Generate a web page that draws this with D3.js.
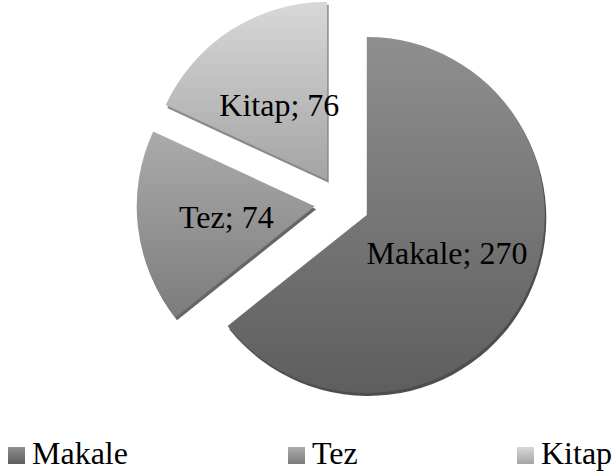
<!DOCTYPE html>
<html>
<head>
<meta charset="utf-8">
<script src="https://cdn.jsdelivr.net/npm/d3@7"></script>
<style>
  html, body { margin: 0; padding: 0; background: #fff; }
  svg { display: block; }
</style>
</head>
<body>
<svg id="chart" width="614" height="475"></svg>
<script>
const categories = ["Makale", "Tez", "Kitap"];
const values = [270, 74, 76];
const topColors = ["#8f8f8f", "#ababab", "#d8d8d8"];
const bottomColors = ["#5e5e5e", "#7c7c7c", "#a4a4a4"];
const shadowColors = ["#4e4e4e", "#666666", "#8a8a8a"];

const FONT = '"Liberation Serif", "Times New Roman", serif';
const W = 614, H = 475;
const cx = 342, cy = 203, R = 178, explode = 27.5;

const svg = d3.select("#chart");
const defs = svg.append("defs");

categories.forEach((c, i) => {
  const g = defs.append("linearGradient")
    .attr("id", "grad" + i)
    .attr("x1", 0).attr("y1", 0).attr("x2", 0).attr("y2", 1);
  g.append("stop").attr("offset", "0%").attr("stop-color", topColors[i]);
  g.append("stop").attr("offset", "100%").attr("stop-color", bottomColors[i]);
});

const pie = d3.pie().sort(null).startAngle(0).endAngle(2 * Math.PI);
const arcs = pie(values);
const arc = d3.arc().innerRadius(0).outerRadius(R);

const root = svg.append("g").attr("transform", `translate(${cx},${cy})`);

const offset = d => {
  const mid = (d.startAngle + d.endAngle) / 2;
  return [explode * Math.sin(mid), -explode * Math.cos(mid)];
};

const slices = root.selectAll("g.slice")
  .data(arcs)
  .join("g")
  .attr("class", "slice")
  .attr("transform", d => { const o = offset(d); return `translate(${o[0]},${o[1]})`; });

// bevel / thickness
slices.append("path")
  .attr("d", arc)
  .attr("transform", "translate(1.5,3)")
  .attr("fill", (d, i) => shadowColors[i]);

slices.append("path")
  .attr("d", arc)
  .attr("fill", (d, i) => `url(#grad${i})`);

slices.append("text")
  .attr("transform", d => { const c = arc.centroid(d); return `translate(${c[0]},${c[1]})`; })
  .attr("text-anchor", "middle")
  .attr("dy", "0.34em")
  .style("font-family", FONT)
  .style("font-size", "32px")
  .attr("fill", "#000")
  .text((d, i) => `${categories[i]}; ${values[i]}`);

// legend
const legendPos = d3.scaleOrdinal().domain(categories).range([8, 288, 517]);
const legend = svg.append("g").attr("transform", "translate(0,447)");
const items = legend.selectAll("g")
  .data(categories)
  .join("g")
  .attr("transform", d => `translate(${legendPos(d)},0)`);
items.append("rect")
  .attr("width", 17).attr("height", 17)
  .attr("fill", (d, i) => `url(#grad${i})`);
items.append("text")
  .attr("x", 24).attr("y", 17)
  .style("font-family", FONT)
  .style("font-size", "32px")
  .attr("fill", "#000")
  .text(d => d);
</script>
</body>
</html>
